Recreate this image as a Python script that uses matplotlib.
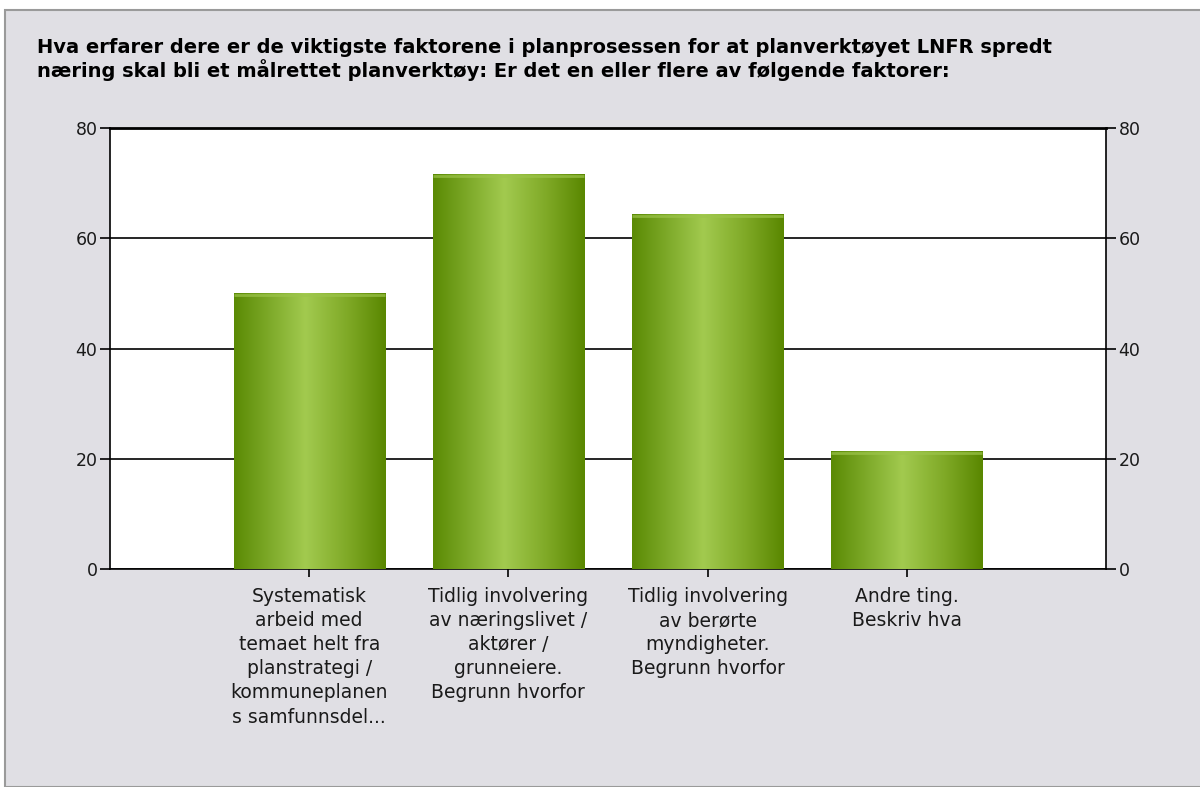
import numpy as np
import matplotlib.pyplot as plt
from matplotlib.patches import Rectangle
from matplotlib.colors import LinearSegmentedColormap

# Kategorier og verdier
kategorier = [
    "Systematisk\narbeid med\ntemaet helt fra\nplanstrategi /\nkommuneplanen\ns samfunnsdel...",
    "Tidlig involvering\nav næringslivet /\naktører /\ngrunneiere.\nBegrunn hvorfor",
    "Tidlig involvering\nav berørte\nmyndigheter.\nBegrunn hvorfor",
    "Andre ting.\nBeskriv hva",
]
verdier = [50.0, 71.6, 64.4, 21.4]
y_ticks = [0, 20, 40, 60, 80]

tittel = ("Hva erfarer dere er de viktigste faktorene i planprosessen for at planverktøyet LNFR spredt\n"
          "næring skal bli et målrettet planverktøy: Er det en eller flere av følgende faktorer:")

bakgrunn = "#e0dfe4"

fig = plt.figure(figsize=(12, 7.87), dpi=100, facecolor="white")
# grå ramme rundt hele diagrammet
fig.patches.append(Rectangle((5 / 1200, 0), 1.0, 1 - 10 / 787, transform=fig.transFigure,
                             facecolor=bakgrunn, edgecolor="#9a9a9a", linewidth=1.5, zorder=-10))

ax = fig.add_axes([110 / 1200, 1 - 569 / 787, 996 / 1200, 441 / 787])
ax.set_facecolor("white")

x = np.arange(1, len(verdier) + 1)
bredde = 0.76
bars = ax.bar(x, verdier, width=bredde, color="#8cb83a", edgecolor="none", zorder=3)

# sylinder-aktig gradient paa stolpene
gradient = LinearSegmentedColormap.from_list(
    "groenn", [(0.0, "#5a8a04"), (0.47, "#a2ca4f"), (0.75, "#7fa926"), (1.0, "#598700")])
grad = np.linspace(0, 1, 256).reshape(1, -1)
for b in bars:
    x0, w, h = b.get_x(), b.get_width(), b.get_height()
    im = ax.imshow(grad, cmap=gradient, aspect="auto", extent=[x0, x0 + w, 0, h], zorder=4)
    im.set_clip_path(b)
    # lys kant paa toppen
    ax.plot([x0, x0 + w], [h - 0.35, h - 0.35], color="#9cc44a", lw=2, alpha=0.7, zorder=5,
            solid_capstyle="butt")

ax.set_xlim(0, 5)
ax.set_ylim(0, 80)
ax.set_yticks(y_ticks)
ax.set_xticks(x)
ax.set_xticklabels(kategorier, fontsize=13.5, color="#1a1a1a", linespacing=1.34)
for t in ax.get_xticklabels():
    t.set_horizontalalignment("center")

ax.grid(axis="y", color="black", linewidth=1.2, zorder=1)
ax.set_axisbelow(True)
ax.tick_params(axis="y", labelsize=12.5, labelcolor="#1a1a1a", length=7, width=1.2,
               left=True, right=True, labelleft=True, labelright=True, pad=2)
ax.tick_params(axis="x", length=6, width=1.2, pad=7)
for side in ["left", "right", "bottom"]:
    ax.spines[side].set_linewidth(1.2)
    ax.spines[side].set_color("black")
ax.spines["top"].set_linewidth(2)

fig.text(37 / 1200, 1 - 38 / 787, tittel, fontsize=14, fontweight="bold", va="top",
         ha="left", color="black", linespacing=1.1)

fig.savefig("out.png", dpi=100, facecolor=fig.get_facecolor())
